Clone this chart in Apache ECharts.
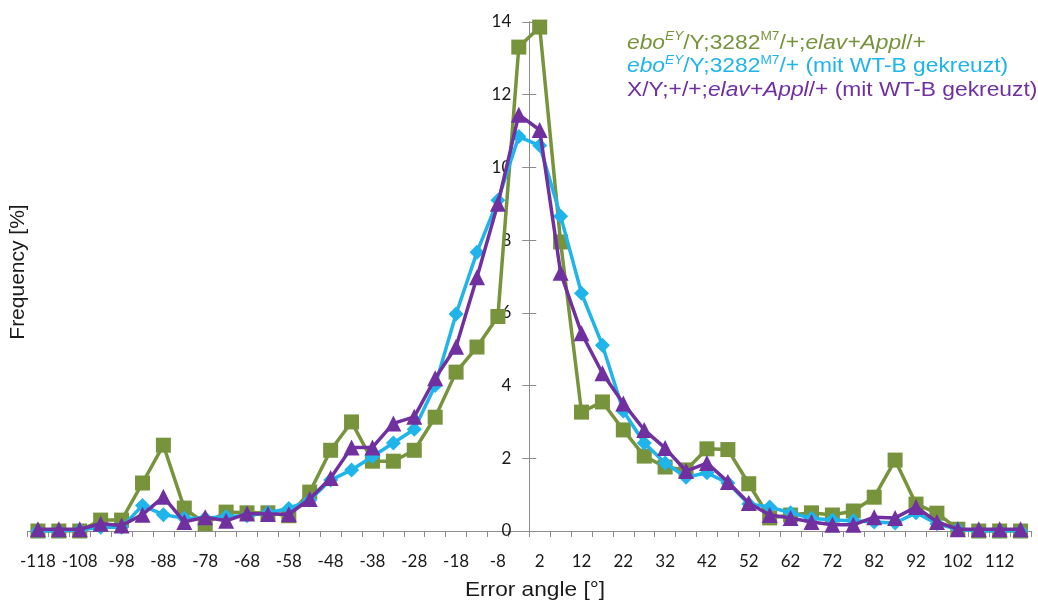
<!DOCTYPE html>
<html>
<head>
<meta charset="utf-8">
<script src="https://cdn.jsdelivr.net/npm/echarts@6/dist/echarts.min.js"></script>
<style>
  html, body { margin: 0; padding: 0; background: #fff; }
  #chart { width: 1038px; height: 600px; }
</style>
</head>
<body>
<div id="chart"></div>
<script>
// error angle categories, 5 degree bins
var angles = [-118, -113, -108, -103, -98, -93, -88, -83, -78, -73, -68, -63, -58, -53, -48, -43,
  -38, -33, -28, -23, -18, -13, -8, -3, 2, 7, 12, 17, 22, 27, 32, 37,
  42, 47, 52, 57, 62, 67, 72, 77, 82, 87, 92, 97, 102, 107, 112, 117];

var yTicks = [0, 2, 4, 6, 8, 10, 12, 14];

// ebo EY/Y;3282 M7/+;elav+Appl/+
var greenVals = [0, 0, 0, 0.3, 0.3, 1.32, 2.36, 0.63, 0.2, 0.52, 0.5, 0.5, 0.42, 1.07, 2.22, 3.0,
  1.92, 1.92, 2.22, 3.13, 4.37, 5.06, 5.9, 13.31, 13.86, 7.95, 3.27, 3.55, 2.78, 2.06, 1.76, 1.68,
  2.26, 2.24, 1.3, 0.36, 0.44, 0.5, 0.44, 0.55, 0.93, 1.95, 0.74, 0.49, 0.05, 0, 0, 0];

// ebo EY/Y;3282 M7/+ (mit WT-B gekreuzt)
var cyanVals = [0, 0, 0.03, 0.1, 0.1, 0.7, 0.45, 0.35, 0.35, 0.4, 0.42, 0.5, 0.62, 0.85, 1.4, 1.68,
  2.05, 2.42, 2.8, 4.0, 5.97, 7.67, 9.1, 10.85, 10.6, 8.66, 6.54, 5.11, 3.3, 2.42, 1.87, 1.48,
  1.6, 1.32, 0.74, 0.66, 0.5, 0.35, 0.3, 0.28, 0.25, 0.22, 0.5, 0.2, 0.05, 0, 0, 0];

// X/Y;+/+;elav+Appl/+ (mit WT-B gekreuzt)
var purpleVals = [0.05, 0.05, 0.05, 0.2, 0.15, 0.45, 0.94, 0.25, 0.38, 0.28, 0.48, 0.47, 0.46, 0.88, 1.46, 2.3,
  2.3, 2.96, 3.14, 4.2, 5.07, 6.98, 9.0, 11.45, 11.03, 7.1, 5.44, 4.34, 3.51, 2.78, 2.28, 1.65,
  1.87, 1.35, 0.77, 0.44, 0.36, 0.25, 0.17, 0.17, 0.38, 0.36, 0.66, 0.25, 0.05, 0.05, 0.05, 0.05];

var seriesNames = ['ebo EY/Y;3282 M7/+;elav+Appl/+',
  'ebo EY/Y;3282 M7/+ (mit WT-B gekreuzt)',
  'X/Y;+/+;elav+Appl/+ (mit WT-B gekreuzt)'];

// rich text versions of the legend entries (italics + superscripts)
var legendRich = [
  '{i|ebo}{si|EY}{n|/Y;3282}{s|M7}{n|/+;}{i|elav+Appl}{n|/+}',
  '{i|ebo}{si|EY}{n|/Y;3282}{s|M7}{n|/+ (mit WT-B gekreuzt)}',
  '{n|X/Y;+/+;}{i|elav+Appl}{n|/+ (mit WT-B gekreuzt)}'
];

var colors = ['#77933C', '#1FB4EA', '#7030A0'];

var chart = echarts.init(document.getElementById('chart'));

var gridLeft = 27.5, gridW = 1003.5;
var cat = gridW / angles.length;
var yAxisX = cat * 24; // axis crosses before category "2"

function mkSeries(idx, vals, symbol, size) {
  return {
    name: seriesNames[idx],
    type: 'line',
    data: vals,
    symbol: symbol,
    symbolSize: size,
    showAllSymbol: true,
    lineStyle: { color: colors[idx], width: 3.5 },
    itemStyle: { color: colors[idx] },
    z: 2 + idx,
    animation: false
  };
}

var richStyles = {
  n: { fontFamily: 'Liberation Sans', fontSize: 20, lineHeight: 24 },
  i: { fontFamily: 'Liberation Sans', fontSize: 20, fontStyle: 'italic', lineHeight: 24 },
  s: { fontFamily: 'Liberation Sans', fontSize: 12, lineHeight: 13, verticalAlign: 'top' },
  si: { fontFamily: 'Liberation Sans', fontSize: 12, fontStyle: 'italic', lineHeight: 13, verticalAlign: 'top' }
};

var legendTexts = legendRich.map(function (t, i) {
  return {
    type: 'text',
    x: 627,
    y: 43 + i * 23.5,
    scaleX: 1.14,
    style: {
      text: t,
      rich: richStyles,
      fill: colors[i],
      align: 'left',
      verticalAlign: 'middle'
    }
  };
});

var yAxisBase = {
  type: 'value',
  min: 0,
  max: 14,
  interval: 2,
  position: 'left',
  offset: -yAxisX,
  axisLine: { show: true, lineStyle: { color: '#8C8C8C', width: 1 } },
  splitLine: { show: false }
};

chart.setOption({
  backgroundColor: '#fff',
  animation: false,
  grid: { left: gridLeft, width: gridW, top: 22, bottom: 69, containLabel: false, outerBoundsMode: 'none' },
  xAxis: {
    type: 'category',
    data: angles,
    boundaryGap: true,
    axisLine: { lineStyle: { color: '#8C8C8C', width: 1 } },
    axisTick: { show: true, interval: 0, length: 6, lineStyle: { color: '#8C8C8C' } },
    axisLabel: { interval: 1, margin: 22, fontFamily: 'Lato', fontSize: 17, color: '#1a1a1a' }
  },
  yAxis: [
    Object.assign({}, yAxisBase, {
      axisTick: { show: true, length: 7, lineStyle: { color: '#8C8C8C' } },
      axisLabel: { margin: 18, fontFamily: 'Lato', fontSize: 17, color: '#1a1a1a',
        formatter: function (v) { return yTicks.indexOf(v) >= 0 ? String(v) : ''; } }
    }),
    Object.assign({}, yAxisBase, {
      axisTick: { show: true, inside: true, length: 7, lineStyle: { color: '#8C8C8C' } },
      axisLabel: { show: false }
    })
  ],
  graphic: legendTexts.concat([{
    type: 'text',
    x: 18,
    y: 272,
    rotation: Math.PI / 2,
    style: {
      text: 'Frequency [%]',
      fontFamily: 'Liberation Sans',
      fontSize: 21,
      fill: '#1a1a1a',
      align: 'center',
      verticalAlign: 'middle'
    }
  }, {
    type: 'text',
    x: 535,
    y: 590,
    scaleX: 1.08,
    style: {
      text: 'Error angle [°]',
      fontFamily: 'Liberation Sans',
      fontSize: 21,
      fill: '#1a1a1a',
      align: 'center',
      verticalAlign: 'middle'
    }
  }]),
  series: [
    mkSeries(0, greenVals, 'rect', 15),
    mkSeries(1, cyanVals, 'diamond', 15),
    mkSeries(2, purpleVals, 'triangle', 16)
  ]
});
</script>
</body>
</html>
